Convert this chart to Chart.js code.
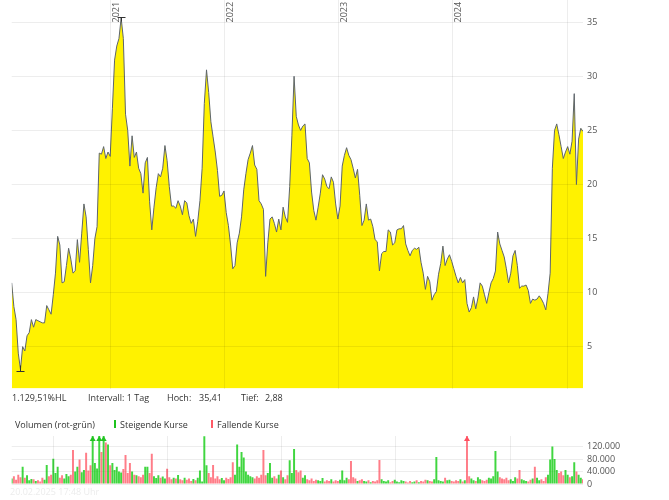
<!DOCTYPE html>
<html lang="de">
<head>
<meta charset="utf-8">
<title>Kursverlauf 5 Jahre</title>
<script src="https://cdn.jsdelivr.net/npm/chart.js@4.4.1/dist/chart.umd.min.js"></script>
<style>
    html, body { margin: 0; padding: 0; background: #fff; }
    body { width: 669px; height: 500px; position: relative; overflow: hidden;
           font-family: 'Open Sans', sans-serif; font-size: 9px; color: #333; }
    canvas { position: absolute; left: 0; }
    #priceChart { top: 0; }
    #volumeChart { top: 430px; }
    .lbl { position: absolute; white-space: nowrap; line-height: 11px; }
    .mark { position: absolute; width: 2px; height: 8px; }
</style>
</head>
<body>
<canvas id="priceChart" width="669" height="392"></canvas>

<div class="lbl" style="left:12px;top:392px">1.129,51%HL</div>
<div class="lbl" style="left:88px;top:392px">Intervall: 1 Tag</div>
<div class="lbl" style="left:167px;top:392px">Hoch:</div>
<div class="lbl" style="left:199px;top:392px" id="highText"></div>
<div class="lbl" style="left:241px;top:392px">Tief:</div>
<div class="lbl" style="left:265px;top:392px" id="lowText"></div>

<div class="lbl" style="left:15px;top:419px">Volumen (rot-grün)</div>
<div class="mark" style="left:114px;top:420px;background:#1ec31e"></div>
<div class="lbl" style="left:120px;top:419px">Steigende Kurse</div>
<div class="mark" style="left:211px;top:420px;background:#ff5a66"></div>
<div class="lbl" style="left:217px;top:419px">Fallende Kurse</div>

<canvas id="volumeChart" width="669" height="58"></canvas>
<div class="lbl" style="left:10px;top:486px;color:#ececec">20.02.2025 17:48 Uhr</div>

<script>
const startDate = Date.UTC(2020, 1, 20);

const closePrices = [
    10.9, 8.7, 7.5, 4.4, 2.9, 5.0, 4.6, 6.0, 6.3, 7.5,
    6.8, 7.5, 7.4, 7.3, 7.2, 7.2, 8.8, 8.4, 8.0, 9.8,
    11.8, 15.2, 14.4, 10.9, 11.0, 12.5, 14.1, 13.1, 11.8, 12.0,
    14.9, 12.8, 15.5, 18.2, 17.0, 14.0, 10.9, 12.5, 15.0, 16.1,
    22.9, 22.8, 23.5, 22.4, 23.0, 22.6, 27.0, 31.5, 32.8, 33.5,
    35.4, 33.5, 26.5, 25.0, 21.7, 24.5, 22.5, 23.0, 21.5, 21.0,
    19.2, 22.0, 22.5, 18.4, 15.8, 17.9, 19.7, 21.0, 20.7, 21.5,
    23.6, 22.2, 19.8, 18.0, 18.0, 17.8, 18.5, 18.0, 17.2, 18.5,
    18.3, 17.1, 16.4, 16.8, 15.2, 16.6, 18.5, 21.5, 27.5, 30.6,
    28.5, 25.8, 24.4, 23.0, 21.3, 18.9, 19.0, 19.4, 17.4, 16.2,
    14.4, 12.2, 12.5, 14.6, 15.5, 17.0, 19.5, 21.0, 22.3, 22.9,
    23.6, 21.8, 21.4, 18.5, 18.2, 17.7, 11.5, 14.6, 16.8, 17.0,
    16.4, 15.6, 16.8, 15.8, 17.9, 17.0, 16.5, 19.8, 24.5, 30.0,
    26.3, 25.5, 25.0, 25.4, 25.6, 22.4, 22.0, 19.3, 17.6, 16.7,
    17.9, 19.2, 20.9, 20.5, 19.8, 19.6, 20.7, 20.2, 18.2, 16.8,
    18.0, 21.7, 22.7, 23.4, 22.7, 22.3, 21.5, 20.6, 21.4, 19.0,
    16.2, 16.7, 18.2, 16.7, 16.8, 16.1, 14.9, 14.7, 12.0, 13.6,
    13.8, 13.8, 15.8, 15.6, 14.4, 14.6, 15.8, 15.9, 15.9, 16.2,
    14.5, 13.9, 13.4, 13.9, 14.1, 14.0, 14.2, 12.8, 11.8, 10.3,
    11.5, 11.0, 9.3, 9.8, 10.1, 11.7, 12.7, 14.3, 12.5, 13.1,
    13.5, 12.9, 12.2, 11.5, 10.9, 11.4, 10.9, 11.2, 9.0, 8.2,
    8.6, 9.6, 8.5, 9.5, 10.9, 10.6, 9.8, 9.0, 10.0, 10.9,
    11.3, 12.0, 15.6, 14.5, 13.9, 13.3, 12.2, 10.9, 11.8, 13.4,
    13.9, 12.5, 10.4, 10.6, 10.6, 10.7, 10.2, 9.0, 9.4, 9.3,
    9.4, 9.7, 9.4, 9.0, 8.4, 9.9, 11.8, 21.5, 25.0, 25.6,
    24.6, 23.5, 22.4, 23.0, 23.5, 22.8, 24.0, 28.4, 20.0, 24.2,
    25.2, 24.9
];

// Volumen in Tausend Stueck
const volumes = [
    18, 25, 14, 30, 22, 55, 20, 28, 12, 16,
    15, 10, 12, 8, 20, 14, 61, 25, 30, 81,
    35, 55, 20, 28, 18, 32, 25, 30, 109, 40,
    55, 79, 38, 45, 100, 43, 60, 170, 67, 50,
    175, 103, 172, 133, 127, 60, 67, 45, 55, 40,
    37, 48, 93, 35, 67, 40, 30, 28, 25, 22,
    30, 55, 55, 35, 97, 25, 19, 28, 20, 24,
    18, 49, 22, 15, 20, 18, 29, 15, 12, 20,
    14, 18, 10, 16, 12, 20, 43, 8, 153, 60,
    35, 22, 61, 18, 25, 15, 19, 12, 20, 16,
    22, 70, 30, 127, 55, 103, 85, 40, 30, 25,
    22, 18, 25, 20, 30, 109, 28, 35, 67, 20,
    25, 18, 30, 43, 22, 15, 28, 76, 35, 112,
    45, 38, 43, 20, 28, 15, 12, 18, 10, 14,
    12, 10, 19, 8, 12, 10, 15, 8, 12, 10,
    14, 43, 12, 20, 15, 74, 22, 18, 10, 12,
    15, 10, 8, 12, 6, 10, 8, 12, 77, 15,
    10, 8, 12, 6, 10, 14, 8, 6, 12, 10,
    8, 5, 10, 6, 8, 12, 6, 10, 8, 14,
    12, 10, 8, 15, 87, 12, 10, 8, 20, 12,
    14, 10, 8, 12, 10, 15, 8, 12, 180, 25,
    18, 12, 10, 22, 15, 12, 10, 14, 20, 18,
    25, 106, 40, 22, 18, 15, 20, 12, 15, 10,
    22, 18, 45, 15, 12, 10, 8, 14, 18, 55,
    20, 12, 15, 10, 22, 30, 79, 120, 80, 45,
    35, 40, 28, 45, 30, 22, 25, 70, 40, 30,
    20, 15
];

const yearGrid = [2021, 2022, 2023, 2024, 2025];
const yearLabels = ['2021', '2022', '2023', '2024'];
const priceTicks = [5, 10, 15, 20, 25, 30, 35];
const volumeTicks = [0, 20000, 40000, 60000, 80000, 100000, 120000, 140000];
const highValue = 35.41;
const lowValue = 2.88;

const DAY = 86400000;
const weekDates = closePrices.map((_, i) => startDate + i * 7 * DAY);
const isUp = closePrices.map((p, i) => i === 0 || p >= closePrices[i - 1]);

const GRID = 'rgba(0, 0, 0, 0.07)';
const TICK_COLOR = '#555';

Chart.defaults.font.family = "'Open Sans', sans-serif";
Chart.defaults.font.size = 9;

document.getElementById('highText').textContent = highValue.toFixed(2).replace('.', ',');
document.getElementById('lowText').textContent = lowValue.toFixed(2).replace('.', ',');

function formatThousands(v) {
    return String(v).replace(/\B(?=(\d{3})+(?!\d))/g, '.');
}

// keine Extra-Abstaende durch Achsenbeschriftungen
function noPadding(scale) {
    scale.paddingTop = 0;
    scale.paddingBottom = 0;
    scale.paddingLeft = 0;
    scale.paddingRight = 0;
}

function yearAxis() {
    return {
        type: 'linear',
        min: weekDates[0],
        max: weekDates[weekDates.length - 1],
        offset: false,
        afterBuildTicks: (scale) => {
            scale.ticks = yearGrid.map(y => ({ value: Date.UTC(y, 0, 1) }));
        },
        afterFit: (scale) => {
            scale.height = 0;
            noPadding(scale);
        },
        ticks: { display: false },
        grid: { color: GRID, drawTicks: false, z: 1 },
        border: { display: false }
    };
}

// Jahreszahlen senkrecht oben rechts neben der Gitterlinie
const yearLabelPlugin = {
    id: 'yearLabels',
    afterDraw(chart) {
        const { ctx, scales: { x } } = chart;
        ctx.save();
        ctx.font = "9px 'Open Sans'";
        ctx.fillStyle = TICK_COLOR;
        ctx.textAlign = 'left';
        ctx.textBaseline = 'top';
        yearLabels.forEach(label => {
            const px = x.getPixelForValue(Date.UTC(Number(label), 0, 1));
            ctx.save();
            ctx.translate(px + 1.5, 22.5);
            ctx.rotate(-Math.PI / 2);
            ctx.fillText(label, 0, 0);
            ctx.restore();
        });
        ctx.restore();
    }
};

// Hoch/Tief Markierung
const extremesPlugin = {
    id: 'extremes',
    afterDatasetsDraw(chart) {
        const { ctx, scales: { x, y } } = chart;
        const hi = closePrices.indexOf(Math.max(...closePrices));
        const lo = closePrices.indexOf(Math.min(...closePrices));
        ctx.save();
        ctx.strokeStyle = '#333';
        ctx.lineWidth = 1;

        let px = Math.round(x.getPixelForValue(weekDates[hi])) + 0.5;
        let py = Math.round(y.getPixelForValue(highValue)) - 0.5;
        ctx.beginPath();
        ctx.moveTo(px - 4, py);
        ctx.lineTo(px + 4, py);
        ctx.moveTo(px, py);
        ctx.lineTo(px, py + 4);
        ctx.stroke();

        px = Math.round(x.getPixelForValue(weekDates[lo])) + 0.5;
        py = Math.round(y.getPixelForValue(lowValue)) + 1.5;
        ctx.beginPath();
        ctx.moveTo(px - 4, py);
        ctx.lineTo(px + 4, py);
        ctx.moveTo(px, py);
        ctx.lineTo(px, py - 6);
        ctx.stroke();
        ctx.restore();
    }
};

// Pfeile fuer abgeschnittene Volumenbalken
const clippedBarsPlugin = {
    id: 'clippedBars',
    afterDatasetsDraw(chart) {
        const { ctx, chartArea, scales: { x, y } } = chart;
        ctx.save();
        volumes.forEach((v, i) => {
            if (v * 1000 <= y.max) return;
            const px = x.getPixelForValue(weekDates[i]);
            ctx.fillStyle = isUp[i] ? '#22c322' : '#ff5060';
            ctx.beginPath();
            ctx.moveTo(px, chartArea.top);
            ctx.lineTo(px - 3, chartArea.top + 5);
            ctx.lineTo(px + 3, chartArea.top + 5);
            ctx.closePath();
            ctx.fill();
        });
        ctx.restore();
    }
};

new Chart(document.getElementById('priceChart'), {
    type: 'line',
    data: {
        datasets: [{
            data: weekDates.map((d, i) => ({ x: d, y: closePrices[i] })),
            borderColor: '#5e656d',
            borderWidth: 1,
            backgroundColor: '#fff200',
            fill: 'start',
            pointRadius: 0,
            tension: 0
        }]
    },
    options: {
        responsive: false,
        animation: false,
        layout: { padding: { left: 11.7, top: 0, right: 0, bottom: 3.5 } },
        plugins: { legend: { display: false }, tooltip: { enabled: false } },
        scales: {
            x: yearAxis(),
            y: {
                position: 'right',
                min: 1.13,
                max: 37.06,
                afterBuildTicks: (scale) => {
                    scale.ticks = priceTicks.map(v => ({ value: v }));
                },
                afterFit: (scale) => {
                    scale.width = 86;
                    noPadding(scale);
                },
                ticks: { color: TICK_COLOR, padding: 4 },
                grid: { color: GRID, drawTicks: false, z: 1 },
                border: { display: false }
            }
        }
    },
    plugins: [yearLabelPlugin, extremesPlugin]
});

new Chart(document.getElementById('volumeChart'), {
    type: 'bar',
    data: {
        datasets: [{
            data: weekDates.map((d, i) => ({ x: d, y: volumes[i] * 1000 })),
            backgroundColor: isUp.map(up => up ? 'rgba(0, 200, 0, 0.75)' : 'rgba(255, 70, 85, 0.7)'),
            barPercentage: 0.9,
            categoryPercentage: 1
        }]
    },
    options: {
        responsive: false,
        animation: false,
        layout: { padding: { left: 11.7, top: 6, right: 0, bottom: 4 } },
        plugins: { legend: { display: false }, tooltip: { enabled: false } },
        scales: {
            x: yearAxis(),
            y: {
                position: 'right',
                min: 0,
                max: 154000,
                afterBuildTicks: (scale) => {
                    scale.ticks = volumeTicks.map(v => ({ value: v }));
                },
                afterFit: (scale) => {
                    scale.width = 86;
                    noPadding(scale);
                },
                ticks: {
                    color: TICK_COLOR,
                    padding: 4,
                    callback: (v) => v % 40000 === 0 ? formatThousands(v) : ''
                },
                grid: { color: GRID, drawTicks: false },
                border: { display: false }
            }
        }
    },
    plugins: [clippedBarsPlugin]
});
</script>
</body>
</html>
